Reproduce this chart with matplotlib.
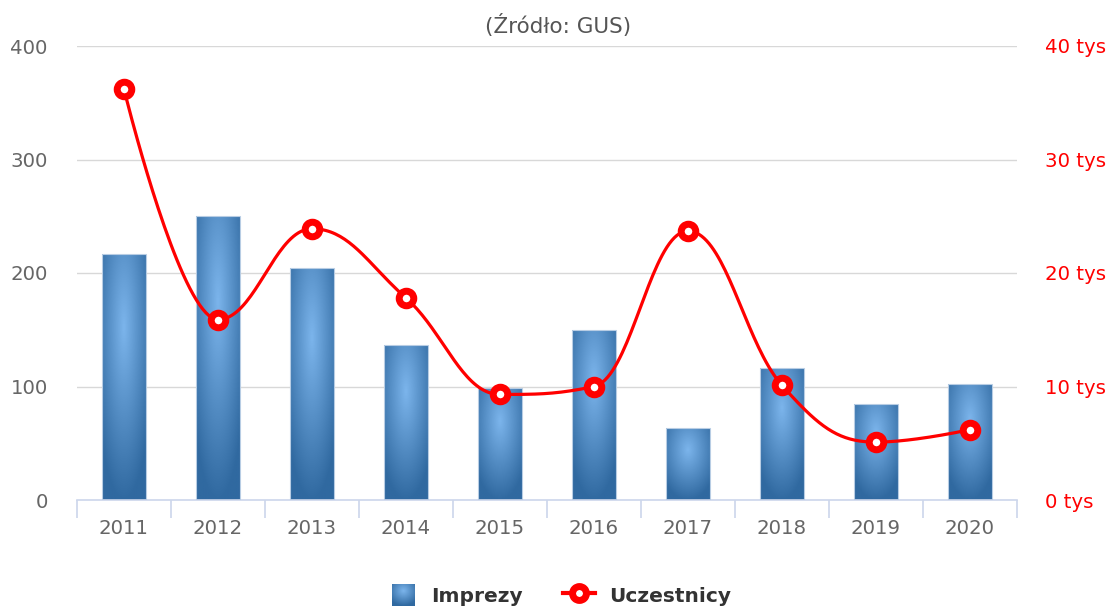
"""
Imprezy i uczestnicy (GUS): bars with radial gradient + smoothed line on a second axis.
"""

import matplotlib

matplotlib.use("Agg")
import matplotlib.pyplot as plt  # noqa: E402
import numpy as np
from matplotlib.lines import Line2D
from matplotlib.patches import Patch, Rectangle

years = ["2011", "2012", "2013", "2014", "2015", "2016", "2017", "2018", "2019", "2020"]
imprezy = [217, 250, 204, 137, 99, 150, 63, 116, 85, 102]
uczestnicy_tys = [36.2, 15.9, 23.9, 17.8, 9.3, 10.0, 23.7, 10.1, 5.1, 6.2]

left_ticks = [0, 100, 200, 300, 400]
right_ticks = [0, 10, 20, 30, 40]

BAR_LIGHT = np.array([124, 181, 236]) / 255
BAR_DARK = np.array([48, 105, 160]) / 255
RED = "#ff0000"
GRID = "#d8d8d8"
AXIS = "#ccd6eb"


def spline_path(xs, ys, smoothing=1.5, steps=40):
    """Highcharts-style spline through the points (cubic Bezier segments)."""
    n = len(xs)
    conts = []
    for i in range(n):
        x, y = xs[i], ys[i]
        if i == 0 or i == n - 1:
            conts.append(((x, y), (x, y)))
            continue
        lx, ly = xs[i - 1], ys[i - 1]
        nx, ny = xs[i + 1], ys[i + 1]
        d = smoothing + 1
        lcx, lcy = (smoothing * x + lx) / d, (smoothing * y + ly) / d
        rcx, rcy = (smoothing * x + nx) / d, (smoothing * y + ny) / d
        corr = 0.0
        if rcx != lcx:
            corr = (rcy - lcy) * (rcx - x) / (rcx - lcx) + y - rcy
        lcy += corr
        rcy += corr
        if lcy > ly and lcy > y:
            lcy = max(ly, y)
            rcy = 2 * y - lcy
        elif lcy < ly and lcy < y:
            lcy = min(ly, y)
            rcy = 2 * y - lcy
        if rcy > ny and rcy > y:
            rcy = max(ny, y)
            lcy = 2 * y - rcy
        elif rcy < ny and rcy < y:
            rcy = min(ny, y)
            lcy = 2 * y - rcy
        conts.append(((lcx, lcy), (rcx, rcy)))
    t = np.linspace(0, 1, steps)[:, None]
    out = []
    for i in range(n - 1):
        p0 = np.array([xs[i], ys[i]])
        p1 = np.array(conts[i][1])
        p2 = np.array(conts[i + 1][0])
        p3 = np.array([xs[i + 1], ys[i + 1]])
        seg = ((1 - t) ** 3) * p0 + 3 * ((1 - t) ** 2) * t * p1 + 3 * (1 - t) * t ** 2 * p2 + t ** 3 * p3
        out.append(seg)
    pts = np.vstack(out)
    return pts[:, 0], pts[:, 1]


def radial_gradient(w=60, h=200):
    u = np.linspace(0, 1, w)[None, :]
    v = np.linspace(0, 1, h)[:, None]
    r = np.clip(np.sqrt(((u - 0.5) / 0.7) ** 2 + ((v - 0.3) / 0.7) ** 2), 0, 1)
    return BAR_LIGHT * (1 - r[..., None]) + BAR_DARK * r[..., None]


plt.rcParams["font.family"] = ["DejaVu Sans"]

fig = plt.figure(figsize=(11.11, 6.08), dpi=100)
ax = fig.add_axes([77 / 1111, 1 - 500 / 608, 940 / 1111, 454 / 608])
ax2 = ax.twinx()

x = np.arange(len(years))
bar_w = 0.46
grad = radial_gradient()

ax.set_xlim(-0.5, len(years) - 0.5)
ax.set_ylim(0, 400)
for yv in left_ticks[1:]:
    ax.axhline(yv, color=GRID, lw=1, zorder=0)

bars = ax.bar(x, imprezy, width=bar_w, color="none", edgecolor="#b8cde4", linewidth=0.8, zorder=3)
for rect in bars:
    x0, w, h = rect.get_x(), rect.get_width(), rect.get_height()
    im = ax.imshow(grad, extent=[x0, x0 + w, 0, h], origin="upper", aspect="auto", zorder=2)
    clip = Rectangle((x0, 0), w, h, transform=ax.transData)
    im.set_clip_path(clip)
ax.set_xlim(-0.5, len(years) - 0.5)
ax.set_ylim(0, 400)

ax.set_xticks(x)
ax.set_xticklabels(years)
ax.set_xticks(np.arange(-0.5, len(years), 1.0), minor=True)
ax.tick_params(axis="x", which="major", length=0, pad=14, labelsize=14.2, labelcolor="#666666")
ax.tick_params(axis="x", which="minor", length=13, width=1.2, color=AXIS, direction="out")
ax.set_yticks(left_ticks)
ax.tick_params(axis="y", length=0, pad=21, labelsize=14.2, labelcolor="#666666")

for side in ["top", "right", "left"]:
    ax.spines[side].set_visible(False)
    ax2.spines[side].set_visible(False)
ax.spines["bottom"].set_color(AXIS)
ax.spines["bottom"].set_linewidth(1.2)
ax2.spines["bottom"].set_visible(False)

sx, sy = spline_path(list(x), uczestnicy_tys)
ax2.plot(sx, sy, color=RED, lw=2.3, zorder=4, solid_capstyle="round")
ax2.plot(x, uczestnicy_tys, ls="none", marker="o", ms=10.5, mew=5, mfc="white", mec=RED, zorder=5)
ax2.set_ylim(0, 40)
ax2.set_yticks(right_ticks)
ax2.set_yticklabels([f"{v} tys" for v in right_ticks])
ax2.tick_params(axis="y", length=0, pad=20, labelsize=14.2, labelcolor=RED)

fig.text(558 / 1111, 1 - 26 / 608, "(Źródło: GUS)", ha="center", va="center", fontsize=15.5, color="#555555")

handles = [
    Patch(facecolor="none", edgecolor="none"),
    Line2D([0], [0], color=RED, lw=3, marker="o", ms=10, mew=5, mfc="white", mec=RED),
]
leg = fig.legend(
    handles,
    ["Imprezy", "Uczestnicy"],
    loc="center",
    bbox_to_anchor=(558 / 1111, 1 - 595 / 608),
    ncol=2,
    frameon=False,
    prop={"weight": "bold", "size": 14.5},
    labelcolor="#333333",
    handlelength=1.6,
    handleheight=1.2,
    columnspacing=2.0,
    handletextpad=0.7,
)

# gradient square for the bar entry, placed where the (invisible) legend patch is
fig.canvas.draw()
bb = leg.get_patches()[0].get_window_extent()
side = min(bb.width, 23)
cx = bb.x0 + bb.width - side / 2 - 2
cy = (bb.y0 + bb.y1) / 2
lax = fig.add_axes([(cx - side / 2) / 1111, (cy - 11) / 608, side / 1111, 22 / 608], zorder=10)
lax.imshow(radial_gradient(40, 40), aspect="auto", extent=[0, 1, 0, 1])
lax.set_axis_off()

fig.savefig("out.png", dpi=100)
plt.close(fig)
